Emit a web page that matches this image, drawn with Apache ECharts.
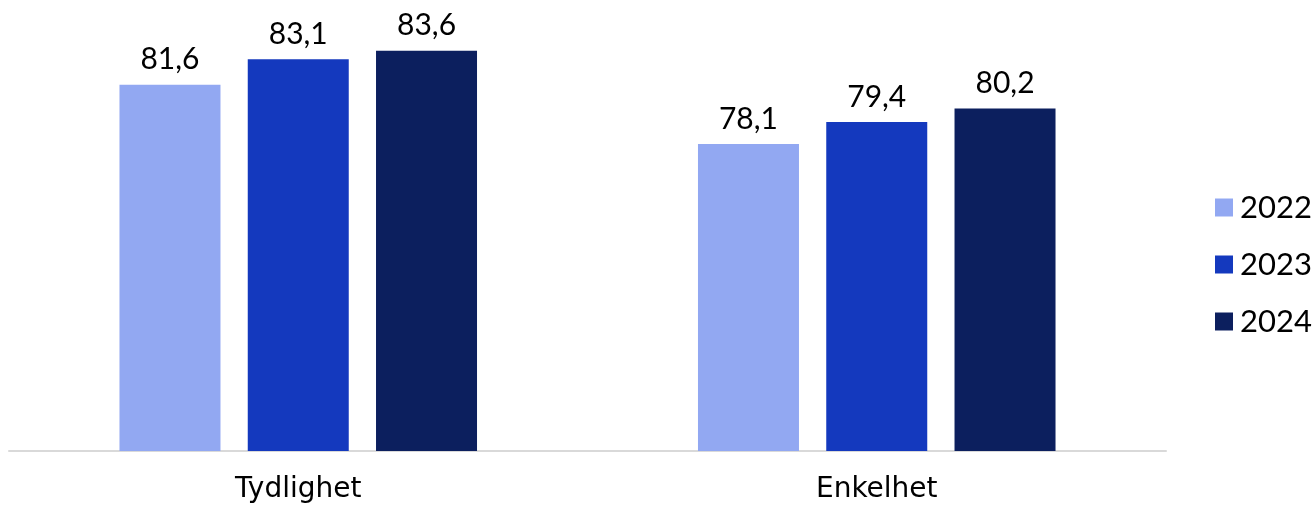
<!DOCTYPE html>
<html><head><meta charset="utf-8">
<script src="https://cdn.jsdelivr.net/npm/echarts@6/dist/echarts.min.js"></script>
<style>html,body{margin:0;padding:0;background:#fff}#c{width:1314px;height:512px}</style>
</head><body><div id="c"></div>
<script>
const categories = ['Tydlighet', 'Enkelhet'];
const seriesNames = ['2022', '2023', '2024'];
const values2022 = [81.6, 78.1];
const values2023 = [83.1, 79.4];
const values2024 = [83.6, 80.2];
const colors = ['#92A8F2', '#1439BE', '#0C1F5E'];
const FONT = 'Lato';
const data = [values2022, values2023, values2024];
const chart = echarts.init(document.getElementById('c'));
chart.setOption({
  animation: false,
  grid: {left: 9, right: 148, top: 10, bottom: 61},
  legend: {
    orient: 'vertical', left: 1210, top: 187,
    itemWidth: 18, itemHeight: 18, itemGap: 26,
    icon: 'rect',
    textStyle: {fontFamily: FONT, fontSize: 31, color: '#000', lineHeight: 22, padding: [0,0,0,2]},
    data: seriesNames
  },
  xAxis: {
    type: 'category', data: categories,
    axisLine: {lineStyle: {color: '#d9d9d9', width: 2}},
    axisTick: {show: false},
    axisLabel: {fontFamily: 'DejaVu Sans', fontSize: 28, color: '#000', margin: 25}
  },
  yAxis: {type: 'value', min: 60, max: 86, show: false, splitLine: {show: false}},
  series: seriesNames.map((n, i) => ({
    name: n, type: 'bar', data: data[i],
    barWidth: 101, barGap: '27%',
    itemStyle: {color: colors[i]},
    label: {show: true, position: 'top', distance: 10, fontFamily: FONT, fontSize: 30, color: '#000',
      formatter: p => p.value.toFixed(1).replace('.', ',')}
  }))
});
</script></body></html>
